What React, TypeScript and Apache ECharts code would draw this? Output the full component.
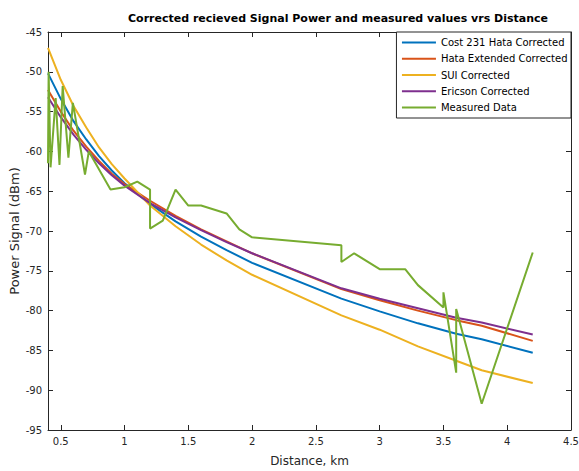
import React, { useEffect, useRef } from "react";
import * as echarts from "echarts";

// Model curves (polylines through these distances)
const curveX = [0.4, 0.5, 0.6, 0.7, 0.8, 0.9, 1.0, 1.2, 1.4, 1.6, 1.8, 2.0, 2.7, 3.0, 3.3, 3.6, 3.8, 4.2];
const cost231 = [-50.2, -53.4, -56.2, -58.5, -60.6, -62.4, -64.0, -66.6, -68.8, -70.7, -72.4, -74.0, -78.5, -80.1, -81.6, -82.9, -83.6, -85.3];
const hataExt = [-52.3, -55.0, -57.4, -59.4, -61.2, -62.8, -64.1, -66.2, -68.1, -69.8, -71.3, -72.8, -77.3, -78.7, -80.0, -81.2, -81.9, -83.8];
const sui = [-47.0, -51.0, -54.3, -57.0, -59.5, -61.6, -63.4, -66.8, -69.4, -71.7, -73.7, -75.5, -80.6, -82.4, -84.5, -86.3, -87.5, -89.1];
const ericson = [-53.2, -55.7, -57.9, -59.8, -61.5, -63.0, -64.3, -66.5, -68.3, -69.9, -71.4, -72.8, -77.2, -78.5, -79.7, -80.9, -81.5, -83.0];

// Measured data
const measuredX = [0.4, 0.405, 0.42, 0.46, 0.49, 0.515, 0.56, 0.595, 0.69, 0.72, 0.89, 1.0, 1.1, 1.2, 1.2, 1.3, 1.4, 1.5, 1.6, 1.8, 1.9, 2.0, 2.7, 2.7, 2.8, 3.0, 3.2, 3.3, 3.5, 3.5, 3.6, 3.6, 3.8, 4.2];
const measuredY = [-61.5, -50.0, -62.0, -53.3, -61.7, -51.8, -60.8, -53.9, -62.9, -60.0, -64.8, -64.5, -63.8, -64.8, -69.7, -68.7, -64.8, -66.8, -66.8, -67.8, -69.8, -70.8, -71.8, -73.9, -72.8, -74.8, -74.8, -76.8, -79.6, -77.7, -87.8, -79.8, -91.7, -72.7];

const seriesNames = ["Cost 231 Hata Corrected", "Hata Extended Corrected", "SUI Corrected", "Ericson Corrected", "Measured Data"];
const seriesColors = ["#0072BD", "#D95319", "#EDB120", "#7E2F8E", "#77AC30"];

const titleText = "Corrected recieved Signal Power and measured values vrs Distance";
const xName = "Distance, km";
const yName = "Power Signal (dBm)";

const FONT = "DejaVu Sans";
const AXIS_COLOR = "#262626";

export default function App() {
  const ref = useRef<HTMLDivElement>(null);

  useEffect(() => {
    document.body.style.margin = "0";
    if (!ref.current) return;
    const chart = echarts.init(ref.current, null, { renderer: "svg" });

    const curves = [cost231, hataExt, sui, ericson];
    const series: any[] = curves.map((vals, i) => ({
      name: seriesNames[i],
      type: "line",
      symbol: "none",
      data: curveX.map((x, j) => [x, vals[j]]),
      lineStyle: { width: 2, color: seriesColors[i] },
      itemStyle: { color: seriesColors[i] },
      z: 2 + i,
    }));
    series.push({
      name: seriesNames[4],
      type: "line",
      symbol: "none",
      data: measuredX.map((x, j) => [x, measuredY[j]]),
      lineStyle: { width: 2, color: seriesColors[4] },
      itemStyle: { color: seriesColors[4] },
      z: 8,
    });

    const xFormatter = (v: number) => {
      const r = Math.round(v * 2) / 2;
      return Math.abs(v - r) < 1e-6 ? String(r) : "";
    };

    const baseX = {
      type: "value",
      min: 0.4,
      max: 4.5,
      splitNumber: 8,
      axisLine: { show: true, onZero: false, lineStyle: { color: AXIS_COLOR, width: 1 } },
      axisTick: { show: true, inside: true, length: 5, lineStyle: { color: AXIS_COLOR } },
      splitLine: { show: false },
    };
    const baseY = {
      type: "value",
      min: -95,
      max: -45,
      interval: 5,
      axisLine: { show: true, onZero: false, lineStyle: { color: AXIS_COLOR, width: 1 } },
      axisTick: { show: true, inside: true, length: 5, lineStyle: { color: AXIS_COLOR } },
      splitLine: { show: false },
    };

    const option: any = {
      animation: false,
      backgroundColor: "#ffffff",
      textStyle: { fontFamily: FONT },
      grid: { left: 48, right: 8, top: 32, bottom: 41, containLabel: false, outerBoundsMode: "none" },
      xAxis: [
        {
          ...baseX,
          position: "bottom",
          axisLabel: { showMinLabel: false, color: AXIS_COLOR, fontSize: 10, fontFamily: FONT, margin: 6, formatter: xFormatter },
          name: xName,
          nameLocation: "middle",
          nameGap: 25,
          nameMoveOverlap: false,
          nameTextStyle: { fontSize: 12, color: AXIS_COLOR, fontFamily: FONT },
        },
        { ...baseX, position: "top", axisLabel: { show: false } },
      ],
      yAxis: [
        {
          ...baseY,
          position: "left",
          axisLabel: { color: AXIS_COLOR, fontSize: 10, fontFamily: FONT, margin: 6 },
          name: yName,
          nameLocation: "middle",
          nameGap: 27,
          nameMoveOverlap: false,
          nameTextStyle: { fontSize: 13, color: AXIS_COLOR, fontFamily: FONT },
        },
        { ...baseY, position: "right", axisLabel: { show: false } },
      ],
      legend: {
        data: seriesNames,
        orient: "vertical",
        right: 8,
        top: 32,
        icon: "rect",
        itemWidth: 34,
        itemHeight: 2,
        itemGap: 4.25,
        padding: [4.5, 3.5, 4.5, 5.5],
        backgroundColor: "#ffffff",
        borderColor: AXIS_COLOR,
        borderWidth: 1,
        borderRadius: 0,
        textStyle: { fontSize: 10, fontFamily: FONT, color: "#000000", lineHeight: 12 },
      },
      graphic: [
        {
          type: "text",
          x: 338,
          y: 18,
          style: {
            text: titleText,
            font: `bold 11px "${FONT}"`,
            fill: "#000000",
            align: "center",
            verticalAlign: "middle",
          },
        },
      ],
      series,
    };

    chart.setOption(option);
    return () => chart.dispose();
  }, []);

  return <div ref={ref} style={{ width: 579, height: 471 }} />;
}
